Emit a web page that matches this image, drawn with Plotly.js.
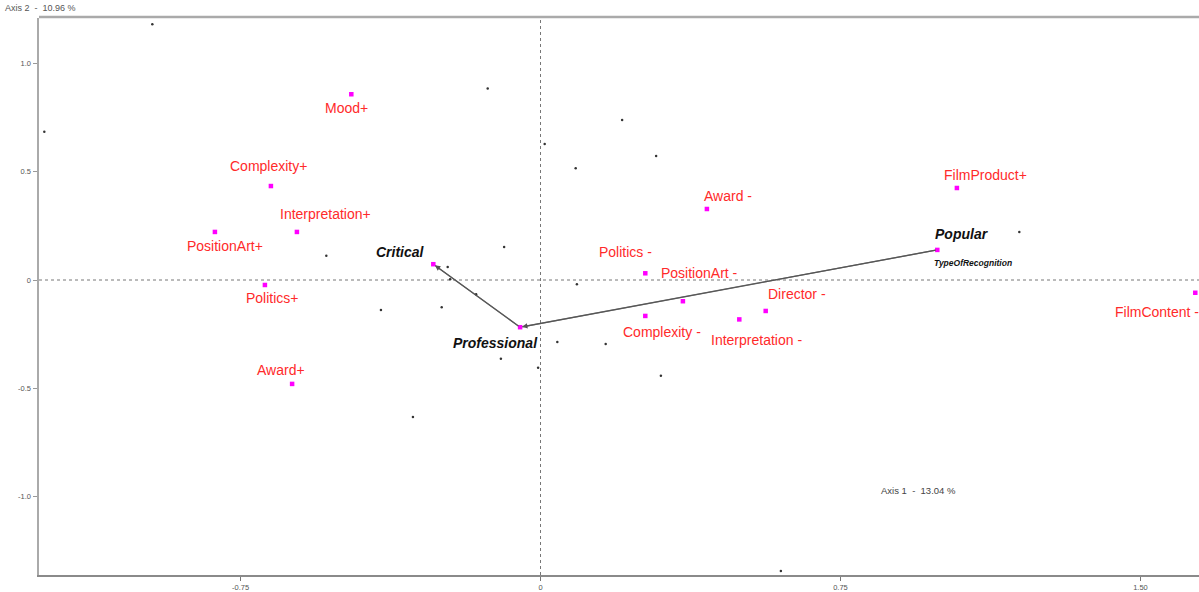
<!DOCTYPE html>
<html>
<head>
<meta charset="utf-8">
<script src="https://cdn.plot.ly/plotly-3.0.1.min.js"></script>
<style>html,body{margin:0;padding:0;background:#fff;}#chart{width:1199px;height:592px;}</style>
</head>
<body>
<div id="chart"></div>
<script>
// ---- Data: active categories (modalities) ----
const activeLabels = ["Mood+","Complexity+","Interpretation+","PositionArt+","Politics+","Award+","Award -","FilmProduct+","Politics -","PositionArt -","Director -","Complexity -","Interpretation -","FilmContent -"];
const activeX = [-0.473,-0.674,-0.609,-0.814,-0.689,-0.621,0.416,1.041,0.262,0.356,0.563,0.262,0.497,1.637];
const activeY = [0.858,0.434,0.222,0.222,-0.023,-0.480,0.328,0.425,0.031,-0.098,-0.143,-0.166,-0.182,-0.059];

// ---- Data: supplementary variable TypeOfRecognition ----
const suppVariable = "TypeOfRecognition";
const suppLabels = ["Critical","Professional","Popular"];
const suppX = [-0.268,-0.051,0.992];
const suppY = [0.073,-0.218,0.139];

// ---- Data: individuals ----
const indX = [-0.9705,-1.2405,-0.132,0.0105,0.204,0.289,0.088,-0.5355,-0.091,-0.232,-0.226,-0.161,-0.399,-0.247,0.091,0.042,0.163,-0.099,-0.006,0.301,-0.319,0.601,1.197];
const indY = [1.181,0.685,0.885,0.628,0.739,0.573,0.516,0.112,0.152,0.060,0.003,-0.066,-0.139,-0.126,-0.020,-0.286,-0.296,-0.364,-0.405,-0.442,-0.633,-1.344,0.222];

// ---- Axis info ----
const axis1Label = "Axis 1  -  13.04 %";
const axis2Label = "Axis 2  -  10.96 %";
const xTickVals = [-0.75, 0, 0.75, 1.5];
const xTickText = ["-0.75", "0", "0.75", "1.50"];
const yTickVals = [-1, -0.5, 0, 0.5, 1];
const yTickText = ["-1.0", "-0.5", "0", "0.5", "1.0"];

// ---- Style: label offsets in pixels (layout only) ----
const activeShiftX = [-5,-2.5,29,10.5,7.5,-11.5,21,29,-20,17,31,17,17.4,-38];
const activeShiftY = [-14,20,18,-14,-13,14,13,13,21,28,17,-16,-21,-19];
const suppShiftX = [-33,-24.5,25];
const suppShiftY = [12,-16,15.5];

const FONT = "Liberation Sans, Arial, sans-serif";
const RED = "#ff2a2a";

const traces = [
  {
    type: "scatter", mode: "lines",
    x: suppX, y: suppY,
    line: {color: "#7a7a7a", width: 1.4},
    hoverinfo: "skip", showlegend: false
  },
  {
    type: "scatter", mode: "markers",
    x: indX, y: indY,
    marker: {color: "#333", size: 2.5, symbol: "circle"},
    hoverinfo: "skip", showlegend: false, cliponaxis: false
  },
  {
    type: "scatter", mode: "markers",
    x: activeX, y: activeY, text: activeLabels,
    marker: {color: "#ff00ff", size: 4.5, symbol: "square"},
    showlegend: false, cliponaxis: false
  },
  {
    type: "scatter", mode: "markers",
    x: suppX, y: suppY, text: suppLabels,
    marker: {color: "#ff00ff", size: 4.5, symbol: "square"},
    showlegend: false, cliponaxis: false
  }
];

const annotations = [];
activeLabels.forEach((lab, i) => {
  annotations.push({
    x: activeX[i], y: activeY[i], xref: "x", yref: "y",
    text: lab, showarrow: false,
    xshift: activeShiftX[i], yshift: activeShiftY[i],
    font: {family: FONT, size: 14, color: RED},
    xanchor: "center", yanchor: "middle"
  });
});
suppLabels.forEach((lab, i) => {
  annotations.push({
    x: suppX[i], y: suppY[i], xref: "x", yref: "y",
    text: lab, showarrow: false,
    xshift: suppShiftX[i], yshift: suppShiftY[i],
    font: {family: FONT, size: 14, color: "#111", weight: "bold", style: "italic"},
    xanchor: "center", yanchor: "middle"
  });
});
// variable name under last category
annotations.push({
  x: suppX[2], y: suppY[2], xref: "x", yref: "y",
  text: suppVariable, showarrow: false,
  xshift: 35.4, yshift: -13.3,
  font: {family: FONT, size: 8.5, color: "#111", weight: "bold", style: "italic"},
  xanchor: "center", yanchor: "middle"
});
// arrowheads along the trajectory
for (let i = 0; i < suppX.length - 1; i++) {
  annotations.push({
    x: suppX[i], y: suppY[i], ax: suppX[i+1], ay: suppY[i+1],
    xref: "x", yref: "y", axref: "x", ayref: "y",
    text: "", showarrow: true, arrowhead: 2, arrowsize: 0.9, arrowwidth: 1.2,
    arrowcolor: "#555", standoff: 2
  });
}
// axis titles
annotations.push({
  x: 0.001, y: 1.018, xref: "paper", yref: "paper",
  text: axis2Label, showarrow: false,
  font: {family: FONT, size: 9, color: "#555"},
  xanchor: "center", yanchor: "middle"
});
annotations.push({
  x: 0.758, y: 0.151, xref: "paper", yref: "paper",
  text: axis1Label, showarrow: false,
  font: {family: FONT, size: 9.5, color: "#444"},
  xanchor: "center", yanchor: "middle"
});

const layout = {
  width: 1199, height: 592,
  margin: {l: 39, r: 0, t: 18, b: 17},
  paper_bgcolor: "#fff", plot_bgcolor: "#fff",
  showlegend: false,
  xaxis: {
    range: [-1.2538, 1.6463], showgrid: false, zeroline: false,
    showline: true, linecolor: "#8a8a8a", linewidth: 2,
    ticks: "outside", ticklen: 4, tickcolor: "#777", tickwidth: 1,
    tickvals: xTickVals, ticktext: xTickText,
    tickfont: {family: FONT, size: 7.5, color: "#555"}
  },
  yaxis: {
    range: [-1.3626, 1.2102], showgrid: false, zeroline: false,
    showline: true, linecolor: "#aaaaaa", linewidth: 2.5,
    ticks: "outside", ticklen: 4, tickcolor: "#999", tickwidth: 1,
    tickvals: yTickVals, ticktext: yTickText,
    tickfont: {family: FONT, size: 7.5, color: "#555"}
  },
  shapes: [
    {type: "line", xref: "paper", yref: "paper", x0: 0, x1: 1, y0: 1.002, y1: 1.002,
     line: {color: "#aaaaaa", width: 2.5}},
    {type: "line", xref: "x", yref: "paper", x0: 0, x1: 0, y0: 0, y1: 1,
     line: {color: "#777", width: 1, dash: "dot"}, layer: "below"},
    {type: "line", xref: "paper", yref: "y", x0: 0, x1: 1, y0: 0, y1: 0,
     line: {color: "#777", width: 1, dash: "dot"}, layer: "below"}
  ],
  annotations: annotations
};

Plotly.newPlot("chart", traces, layout, {displayModeBar: false, staticPlot: true});
</script>
</body>
</html>
